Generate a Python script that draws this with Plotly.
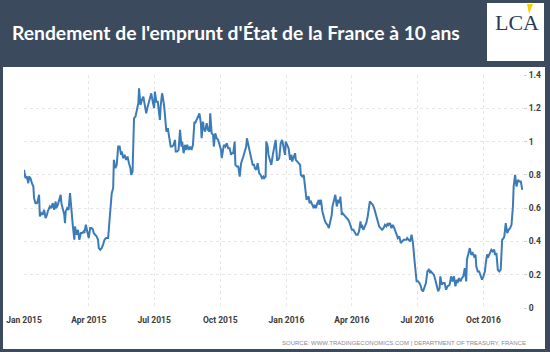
import plotly.graph_objects as go

# ---- data ----
days_2015_h1 = ["01-01","01-03","01-05","01-07","01-08","01-10","01-12","01-14","01-15","01-17","01-19","01-20","01-22","01-23","01-25","01-27","01-29","01-31",
 "02-02","02-03","02-06","02-08","02-10","02-12","02-14","02-15","02-17","02-19","02-21","02-22","02-24","02-26","02-27","02-28",
 "03-02","03-04","03-06","03-08","03-10","03-12","03-13","03-15","03-17","03-19","03-21","03-23","03-25","03-26","03-28","03-30",
 "04-01","04-03","04-05","04-07","04-08","04-10","04-12","04-14","04-15","04-17","04-19","04-21","04-23","04-25","04-28","04-30",
 "05-02","05-03","05-05","05-06","05-08","05-10","05-12","05-14","05-16","05-17","05-19","05-21","05-23","05-25","05-27","05-29","05-30",
 "06-01","06-03","06-05","06-07","06-09","06-10","06-12","06-14","06-16","06-18","06-20","06-22","06-23","06-25","06-27","06-29"]
vals_2015_h1 = [0.83,0.78,0.79,0.75,0.79,0.78,0.75,0.73,0.66,0.63,0.63,0.64,0.68,0.55,0.57,0.56,0.59,0.54,
 0.56,0.58,0.61,0.60,0.63,0.59,0.64,0.60,0.62,0.65,0.68,0.63,0.60,0.56,0.51,0.58,
 0.60,0.59,0.69,0.57,0.49,0.41,0.49,0.44,0.47,0.41,0.45,0.45,0.46,0.45,0.50,0.46,
 0.42,0.48,0.48,0.47,0.45,0.44,0.43,0.41,0.36,0.35,0.36,0.38,0.41,0.42,0.42,0.53,
 0.65,0.69,0.72,0.89,0.84,0.86,0.97,0.97,0.92,0.94,0.90,0.92,0.89,0.91,0.87,0.84,0.80,
 0.82,1.14,1.15,1.19,1.23,1.32,1.22,1.25,1.27,1.22,1.17,1.21,1.23,1.26,1.29,1.24]

days_2015_h2 = ["07-01","07-02","07-04","07-06","07-07","07-09","07-10","07-12","07-13","07-15","07-17","07-18","07-20","07-22","07-24","07-26","07-28","07-30","07-31",
 "08-02","08-04","08-06","08-08","08-09","08-11","08-13","08-14","08-16","08-18","08-20","08-22","08-24","08-26","08-27","08-29","08-31",
 "09-02","09-04","09-05","09-07","09-08","09-10","09-12","09-14","09-16","09-17","09-19","09-21","09-22","09-24","09-26","09-28","09-30",
 "10-02","10-03","10-04","10-06","10-08","10-10","10-12","10-14","10-16","10-17","10-19","10-21","10-22","10-24","10-26","10-28","10-30","10-31",
 "11-02","11-04","11-06","11-07","11-09","11-11","11-13","11-15","11-17","11-18","11-20","11-22","11-24","11-26","11-28","11-30",
 "12-01","12-03","12-04","12-06","12-07","12-09","12-11","12-13","12-15","12-17","12-19","12-20","12-22","12-24","12-26","12-28","12-30","12-31"]
vals_2015_h2 = [1.20,1.30,1.24,1.24,1.20,1.13,1.21,1.29,1.27,1.21,1.11,1.06,1.08,1.03,0.97,0.97,0.98,1.01,0.94,
 0.94,0.95,1.07,0.97,1.00,0.93,0.98,0.95,0.98,0.95,0.97,0.95,0.98,1.12,1.11,1.13,1.15,
 1.17,1.11,1.02,1.12,1.08,1.06,1.11,1.07,1.06,1.17,1.05,1.04,0.97,1.05,1.02,1.01,0.98,
 0.95,0.90,0.94,0.98,0.97,0.99,0.96,0.96,0.92,0.93,0.93,1.00,0.86,0.85,0.85,0.79,0.87,0.88,
 0.91,0.94,0.97,1.02,0.98,0.94,0.88,0.86,0.86,0.84,0.83,0.87,0.81,0.80,0.78,0.79,
 0.78,0.79,1.00,0.97,0.92,0.89,0.86,0.92,0.97,1.01,0.89,0.89,0.90,0.99,1.01,0.97,0.92,1.00]

days_2016_h1 = ["01-01","01-02","01-04","01-06","01-08","01-09","01-11","01-13","01-14","01-16","01-18","01-20","01-21","01-23","01-25","01-26","01-27","01-29","01-30",
 "02-01","02-02","02-04","02-06","02-08","02-09","02-11","02-13","02-15","02-16","02-18","02-20","02-22","02-23","02-25","02-27","02-29",
 "03-02","03-04","03-05","03-07","03-09","03-11","03-13","03-15","03-16","03-18","03-19","03-21","03-23","03-25","03-27","03-29","03-31",
 "04-01","04-03","04-05","04-07","04-09","04-11","04-13","04-14","04-15","04-17","04-19","04-21","04-23","04-25","04-26","04-28","04-30",
 "05-02","05-04","05-06","05-08","05-09","05-11","05-13","05-15","05-17","05-19","05-21","05-22","05-24","05-26","05-28","05-30",
 "06-01","06-03","06-04","06-06","06-08","06-10","06-12","06-14","06-16","06-17","06-19","06-21","06-23","06-25","06-27","06-28","06-30"]
vals_2016_h1 = [0.99,0.98,0.96,0.89,0.92,0.88,0.91,0.93,0.89,0.88,0.87,0.86,0.80,0.79,0.80,0.77,0.73,0.65,0.66,
 0.67,0.63,0.64,0.62,0.60,0.62,0.60,0.63,0.65,0.62,0.65,0.58,0.54,0.53,0.51,0.50,0.48,
 0.52,0.56,0.61,0.64,0.68,0.61,0.65,0.63,0.67,0.56,0.57,0.56,0.55,0.54,0.53,0.51,0.48,
 0.47,0.47,0.45,0.44,0.44,0.46,0.52,0.48,0.50,0.47,0.49,0.51,0.55,0.60,0.64,0.63,0.62,
 0.60,0.57,0.53,0.50,0.49,0.48,0.47,0.48,0.50,0.49,0.51,0.50,0.51,0.48,0.50,0.48,
 0.46,0.44,0.42,0.43,0.39,0.40,0.41,0.41,0.41,0.42,0.41,0.40,0.44,0.39,0.29,0.24,0.16]

days_2016_h2 = ["07-02","07-04","07-06","07-07","07-09","07-11","07-13","07-15","07-17","07-19","07-20","07-22","07-24","07-26","07-28","07-30",
 "08-01","08-02","08-04","08-06","08-08","08-10","08-12","08-14","08-15","08-17","08-19","08-21","08-23","08-25","08-26","08-28","08-30",
 "09-01","09-03","09-05","09-07","09-08","09-10","09-12","09-14","09-16","09-18","09-20","09-21","09-23","09-25","09-27","09-29",
 "10-01","10-03","10-04","10-06","10-08","10-10","10-12","10-14","10-16","10-17","10-19","10-21","10-23","10-25","10-27","10-29","10-30",
 "11-01","11-03","11-05","11-07","11-09","11-11","11-12","11-14","11-16","11-18","11-20","11-22","11-24"]
vals_2016_h2 = [0.16,0.15,0.13,0.11,0.10,0.13,0.15,0.22,0.23,0.21,0.22,0.21,0.20,0.17,0.13,0.10,
 0.12,0.19,0.14,0.15,0.15,0.11,0.13,0.14,0.14,0.19,0.16,0.19,0.13,0.17,0.15,0.18,0.16,
 0.18,0.19,0.24,0.16,0.29,0.32,0.36,0.32,0.33,0.31,0.32,0.25,0.22,0.22,0.20,0.17,
 0.19,0.22,0.26,0.32,0.31,0.33,0.35,0.34,0.35,0.32,0.33,0.23,0.22,0.23,0.41,0.42,0.43,
 0.51,0.45,0.47,0.48,0.50,0.61,0.73,0.80,0.73,0.77,0.76,0.76,0.71]

y_ticks = [0, 0.2, 0.4, 0.6, 0.8, 1, 1.2, 1.4]
title_text = "Rendement de l'emprunt d'État de la France à 10 ans"
source_text = "SOURCE: WWW.TRADINGECONOMICS.COM | DEPARTMENT OF TREASURY, FRANCE"

dates = ([f"2015-{d}" for d in days_2015_h1] + [f"2015-{d}" for d in days_2015_h2] +
         [f"2016-{d}" for d in days_2016_h1] + [f"2016-{d}" for d in days_2016_h2])
values = vals_2015_h1 + vals_2015_h2 + vals_2016_h1 + vals_2016_h2

# ---- layout geometry (pixels) ----
W, H = 550, 352
L, R, T, B = 24, 27, 75, 44
PW, PH = W - L - R, H - T - B

def fx(px):
    return (px - L) / PW

def fy(py):
    return (H - B - py) / PH

BG = "#3b4a5c"
TICKFONT = dict(family="Roboto", size=8.5, color="#3a3a3a", weight="bold")

fig = go.Figure()
fig.add_trace(go.Scatter(x=dates, y=values, mode="lines",
                         line=dict(color="#3b7bb8", width=2), hoverinfo="x+y"))

shapes = [
    dict(type="rect", xref="paper", yref="paper", x0=fx(3), x1=fx(545), y0=fy(349), y1=fy(67),
         fillcolor="white", line=dict(width=0), layer="below"),
    dict(type="rect", xref="paper", yref="paper", x0=fx(487), x1=fx(544), y0=fy(61), y1=fy(3),
         fillcolor="white", line=dict(width=0), layer="above"),
    dict(type="path", xref="paper", yref="paper",
         path=f"M {fx(527)} {fy(4)} L {fx(533)} {fy(4)} L {fx(529)} {fy(14)} Z",
         fillcolor="#f5d000", line=dict(width=0), layer="above"),
]

annotations = [
    dict(text=f"<b>{title_text}</b>", xref="paper", yref="paper", x=fx(10), y=fy(32),
         xanchor="left", yanchor="middle", showarrow=False,
         font=dict(family="Lato", size=19.3, color="white")),
    dict(text="LCA", xref="paper", yref="paper", x=fx(517), y=fy(22),
         xanchor="center", yanchor="middle", showarrow=False,
         font=dict(family="Liberation Serif", size=22, color="#2b3a55")),
    dict(text=source_text, xref="paper", yref="paper", x=fx(528), y=fy(343),
         xanchor="right", yanchor="middle", showarrow=False,
         font=dict(family="Liberation Sans", size=6, color="#8a8a8a")),
]

fig.update_layout(
    width=W, height=H,
    margin=dict(l=L, r=R, t=T, b=B, pad=0, autoexpand=False),
    paper_bgcolor=BG, plot_bgcolor="white",
    showlegend=False,
    shapes=shapes, annotations=annotations,
    xaxis=dict(type="date", range=["2015-01-01", "2016-11-25"], automargin=False,
               tick0="2015-01-01", dtick="M3", tickformat="%b %Y",
               showgrid=True, gridcolor="#e6e6e6", gridwidth=1, griddash="dot",
               zeroline=False, showline=False, ticks="", ticklabelstandoff=5,
               tickfont=TICKFONT),
    yaxis=dict(side="right", range=[0, 1.4], tickvals=y_ticks, automargin=False,
               showgrid=True, gridcolor="#e6e6e6", gridwidth=1, griddash="dot",
               zeroline=False, showline=False, ticks="outside", ticklen=3, tickcolor="#d0d0d0",
               tickfont=TICKFONT),
)

fig.write_html("out.html")
